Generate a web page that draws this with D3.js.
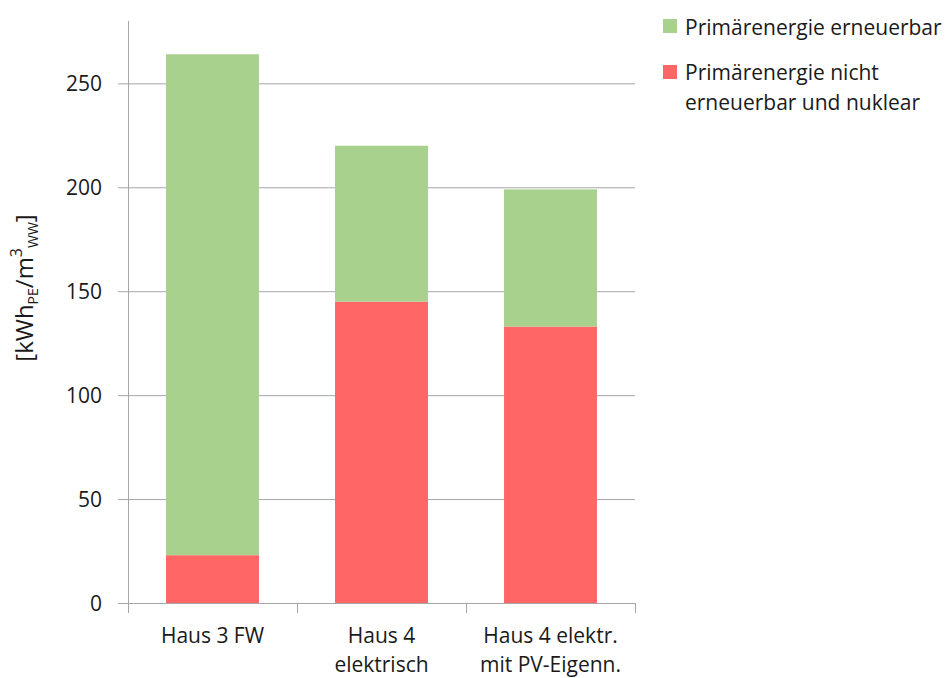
<!DOCTYPE html>
<html><head><meta charset="utf-8">
<script src="https://cdn.jsdelivr.net/npm/d3@7"></script>
<style>body{margin:0;background:#fff;} svg{display:block;font-family:"Open Sans","Noto Sans",sans-serif;}</style>
</head><body>
<svg id="c" width="951" height="678"></svg>
<script>
const categories = [["Haus 3 FW"], ["Haus 4", "elektrisch"], ["Haus 4 elektr.", "mit PV-Eigenn."]];
const nichtErneuerbar = [23, 145, 133];
const erneuerbar = [241, 75, 66];
const yTicks = [0, 50, 100, 150, 200, 250];
const seriesNames = ["Primärenergie erneuerbar", "Primärenergie nicht erneuerbar und nuklear"];
const colors = ["#A9D18E", "#FF6666"];

const svg = d3.select("#c");
const L = 128, R = 635, T = 21, B = 603;
const x = d3.scaleBand().domain(d3.range(categories.length)).range([L, R]).paddingInner(0.45).paddingOuter(0.225);
const y = d3.scaleLinear().domain([0, 280]).range([B, T]);
const grid = "#A6A6A6";
const txt = "#1a1a1a";

svg.append("g").selectAll("line").data(yTicks).join("line")
  .attr("x1", L - 10).attr("x2", R).attr("y1", d => y(d) + 0.5).attr("y2", d => y(d) + 0.5)
  .attr("stroke", grid).attr("stroke-width", 1);
svg.append("line").attr("x1", L + 0.5).attr("x2", L + 0.5).attr("y1", T).attr("y2", B + 10).attr("stroke", grid);
const bounds = d3.range(categories.length + 1).map(i => L + i * (R - L) / categories.length);
svg.append("g").selectAll("line").data(bounds).join("line")
  .attr("x1", d => Math.round(d) + 0.5).attr("x2", d => Math.round(d) + 0.5).attr("y1", B).attr("y2", B + 10)
  .attr("stroke", grid);

svg.append("g").selectAll("text").data(yTicks).join("text")
  .attr("x", L - 26).attr("y", d => y(d)).attr("dy", "0.36em").attr("text-anchor", "end")
  .attr("font-size", 21).attr("fill", txt).text(d => d);

const stacks = [nichtErneuerbar, erneuerbar];
const stackColors = [colors[1], colors[0]];
categories.forEach((c, i) => {
  let base = 0;
  stacks.forEach((s, k) => {
    svg.append("rect").attr("x", x(i)).attr("width", x.bandwidth())
      .attr("y", y(base + s[i])).attr("height", y(base) - y(base + s[i]))
      .attr("fill", stackColors[k]);
    base += s[i];
  });
});

const cl = svg.append("g");
categories.forEach((lines, i) => {
  const t = cl.append("text").attr("text-anchor", "middle").attr("font-size", 21).attr("fill", txt);
  lines.forEach((ln, j) => t.append("tspan").attr("x", x(i) + x.bandwidth() / 2).attr("y", 643 + j * 29).text(ln));
});

const yl = svg.append("text").attr("transform", "translate(33,288) rotate(-90)").attr("text-anchor", "middle")
  .attr("font-size", 24).attr("fill", txt);
yl.append("tspan").text("[kWh");
yl.append("tspan").attr("font-size", 14).attr("dy", 5).text("PE");
yl.append("tspan").attr("dy", -5).text("/m");
yl.append("tspan").attr("font-size", 16).attr("dy", -11).text("3");
yl.append("tspan").attr("font-size", 14).attr("dy", 16).text("WW");
yl.append("tspan").attr("dy", -5).text("]");

const lg = svg.append("g");
lg.append("rect").attr("x", 663).attr("y", 19).attr("width", 14).attr("height", 14).attr("fill", colors[0]);
lg.append("text").attr("x", 685).attr("y", 35).attr("font-size", 21).attr("fill", txt).text(seriesNames[0]);
lg.append("rect").attr("x", 663).attr("y", 65).attr("width", 14).attr("height", 14).attr("fill", colors[1]);
const t2 = lg.append("text").attr("font-size", 21).attr("fill", txt);
t2.append("tspan").attr("x", 685).attr("y", 80).text("Primärenergie nicht");
t2.append("tspan").attr("x", 685).attr("y", 110).text("erneuerbar und nuklear");
</script>
</body></html>
